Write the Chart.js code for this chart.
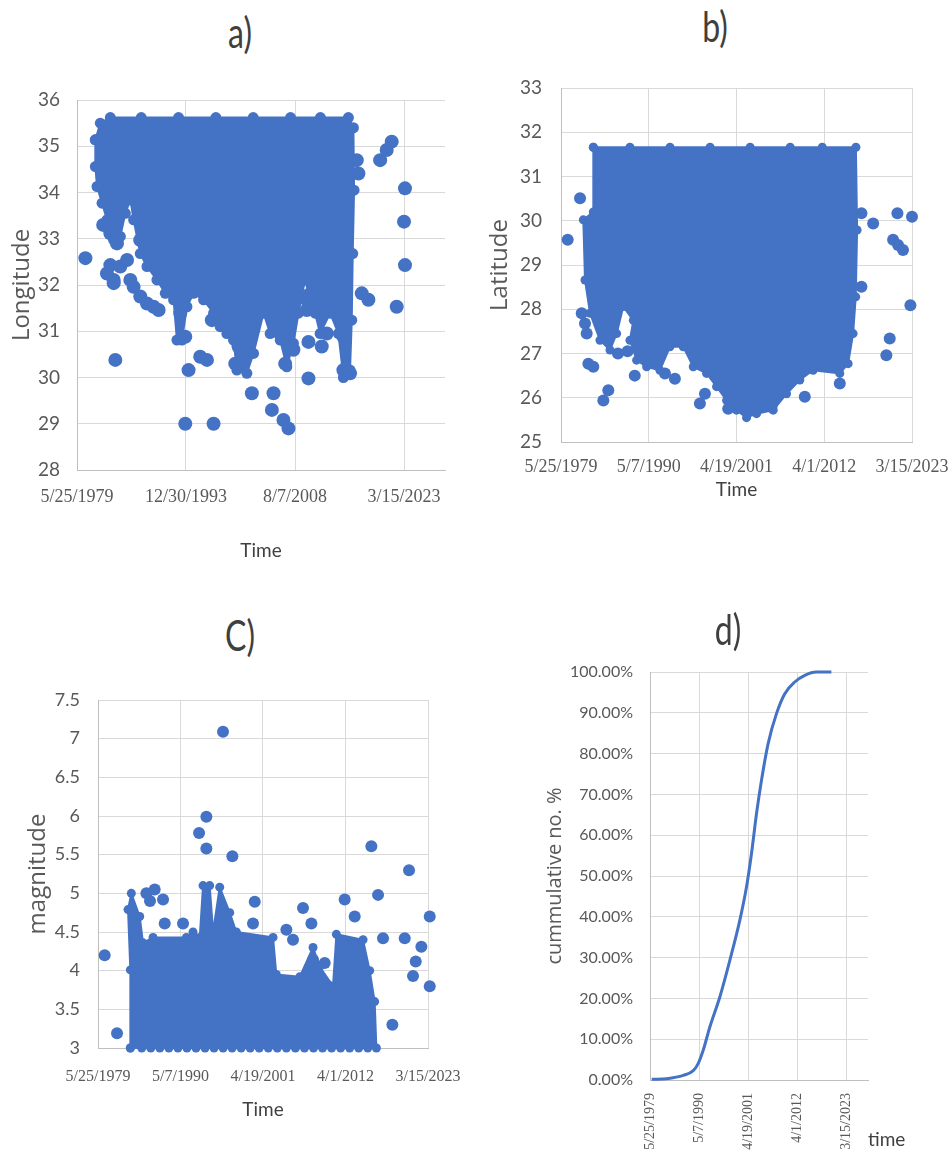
<!DOCTYPE html>
<html>
<head>
<meta charset="utf-8">
<title>Earthquake catalogue 1979-2023</title>
<script src="https://cdn.jsdelivr.net/npm/chart.js@4.4.1/dist/chart.umd.min.js"></script>
<style>
  html, body { margin: 0; padding: 0; background: #fff; overflow: hidden; }
  #fig { position: relative; width: 950px; height: 1170px; }
  canvas { position: absolute; }
  .ttl {
    position: absolute; width: 80px; text-align: center;
    font-family: Lato, "Open Sans", sans-serif; font-size: 32px; line-height: 36px;
    color: #3f3f3f; transform: scaleY(1.3);
  }
  .note { position: absolute; font-family: Lato, sans-serif; font-size: 19px; color: #404040; }
</style>
</head>
<body>
<div id="fig">
  <canvas id="lonCanvas" width="470" height="490" style="left:0;top:80px"></canvas>
  <canvas id="latCanvas" width="472" height="432" style="left:480px;top:70px"></canvas>
  <canvas id="magCanvas" width="470" height="450" style="left:0;top:680px"></canvas>
  <canvas id="cumCanvas" width="470" height="520" style="left:480px;top:650px"></canvas>

  <div class="ttl" style="left:200px;top:14px">a)</div>
  <div class="ttl" style="left:675px;top:8px">b)</div>
  <div class="ttl" style="left:200px;top:617px">C)</div>
  <div class="ttl" style="left:688px;top:611px">d)</div>
  <div class="note" style="left:868px;top:1127px">time</div>
</div>

<script>
// ---- tick dates (decimal years) ----
const tickYearsA = [1979.395, 1993.995, 2008.598, 2023.2];
const tickLabelsA = ['5/25/1979', '12/30/1993', '8/7/2008', '3/15/2023'];
const tickYears = [1979.395, 1990.345, 2001.296, 2012.249, 2023.2];
const tickLabels = ['5/25/1979', '5/7/1990', '4/19/2001', '4/1/2012', '3/15/2023'];

// ---- a) longitude: outline of the dense cloud + scattered events [year, lon] ----
const lonCloud = [
  [1981.85, 35.14], [1982.52, 35.5], [1983.86, 35.62], [1988.0, 35.62], [1993.0, 35.62],
  [1998.0, 35.62], [2003.0, 35.62], [2008.0, 35.62], [2012.0, 35.62], [2015.75, 35.62],
  [2016.42, 35.4], [2016.51, 34.05], [2016.33, 32.68], [2016.2, 31.24], [2015.97, 30.16],
  [2015.08, 30.0], [2014.41, 30.95], [2013.3, 31.39], [2011.96, 30.95], [2011.29, 31.39],
  [2010.4, 31.82], [2009.95, 32.11], [2009.06, 31.39], [2008.39, 30.74], [2007.5, 30.23],
  [2006.61, 30.81], [2005.27, 30.95], [2004.38, 31.39], [2003.04, 30.52], [2002.15, 30.09],
  [2000.81, 30.16], [2000.36, 30.81], [1999.47, 30.95], [1998.58, 31.1], [1997.69, 31.39],
  [1996.35, 31.68], [1995.01, 31.82], [1994.12, 31.53], [1993.45, 30.81], [1992.78, 30.81],
  [1992.33, 31.68], [1991.22, 31.82], [1990.1, 32.11], [1988.77, 32.4], [1987.87, 32.68],
  [1986.98, 33.41], [1986.54, 33.84], [1985.87, 33.55], [1985.2, 33.05], [1984.31, 32.97],
  [1983.41, 33.41], [1982.75, 33.77], [1982.08, 34.13], [1981.85, 34.56], [1981.85, 35.14]
];
const lonEvents = [
  [1980.52, 32.58], [1984.53, 30.38], [1983.86, 32.43], [1984.31, 32.11], [1985.2, 32.4],
  [1986.1, 32.54], [1986.54, 32.11], [1986.98, 31.96], [1987.87, 31.75], [1988.77, 31.6],
  [1989.66, 31.53], [1990.33, 31.46], [1987.87, 32.97], [1983.86, 33.12], [1984.75, 32.9],
  [1983.41, 32.25], [1984.31, 32.04], [1982.9, 33.3], [1993.23, 31.39], [1993.9, 30.88],
  [1994.34, 30.16], [1993.9, 29.0], [1997.69, 29.0], [1995.9, 30.45], [1996.8, 30.38],
  [1997.46, 31.24], [2000.59, 30.3], [2001.03, 30.67], [2002.82, 29.66], [2005.72, 29.66],
  [2005.5, 29.3], [2007.05, 29.08], [2007.72, 28.9], [2007.28, 30.3], [2008.39, 30.6],
  [2010.18, 31.68], [2010.18, 31.46], [2010.4, 30.77], [2010.4, 29.98], [2011.96, 31.39],
  [2012.18, 30.67], [2012.85, 30.95], [2013.74, 31.46], [2015.08, 30.88], [2015.08, 30.16],
  [2015.97, 30.09], [2017.09, 34.41], [2016.87, 34.7], [2017.54, 31.82], [2018.43, 31.68],
  [2020.0, 34.7], [2020.88, 34.92], [2021.55, 35.1], [2022.22, 31.53], [2023.33, 34.09],
  [2023.2, 33.37], [2023.33, 32.43]
];

// ---- b) latitude ----
const latCloud = [
  [1983.43, 31.66], [1988.0, 31.66], [1993.0, 31.66], [1998.0, 31.66], [2003.0, 31.66],
  [2008.0, 31.66], [2012.0, 31.66], [2016.2, 31.66], [2016.35, 29.79], [2016.18, 28.28],
  [2015.85, 27.45], [2015.23, 26.77], [2014.19, 26.55], [2010.86, 26.62], [2009.2, 26.4],
  [2007.54, 26.09], [2005.88, 25.72], [2003.8, 25.64], [2002.55, 25.55], [2001.3, 25.72],
  [2000.06, 25.94], [1998.81, 26.25], [1997.56, 26.55], [1995.9, 26.7], [1994.65, 27.15],
  [1992.99, 27.15], [1991.74, 26.62], [1990.08, 26.7], [1988.83, 26.85], [1988.0, 27.3],
  [1988.42, 27.75], [1987.17, 28.06], [1986.34, 27.45], [1985.51, 27.08], [1984.26, 27.3],
  [1983.02, 27.91], [1982.39, 28.66], [1982.18, 30.02], [1983.43, 30.2], [1983.43, 31.66]
];
const latEvents = [
  [1980.23, 29.57], [1981.77, 30.51], [1981.98, 27.91], [1982.39, 27.68], [1982.6, 27.45],
  [1982.81, 26.77], [1983.43, 26.7], [1984.68, 25.94], [1985.3, 26.17], [1986.5, 27.0],
  [1987.7, 27.05], [1988.6, 26.5], [1992.37, 26.55], [1993.61, 26.43], [1996.73, 25.87],
  [1997.36, 26.09], [2000.26, 25.75], [2005.67, 25.79], [2009.82, 26.02], [2014.19, 26.32],
  [2016.89, 30.17], [2018.35, 29.94], [2016.89, 28.51], [2021.38, 30.17], [2023.2, 30.09],
  [2020.84, 29.57], [2021.46, 29.45], [2022.08, 29.34], [2023.0, 28.09], [2020.42, 27.34],
  [2020.0, 26.96]
];

// ---- c) magnitude (catalogue floor at M 3.0) ----
const magCloud = [
  [1983.69, 3.0], [1983.69, 4.01], [1983.38, 4.79], [1983.82, 5.0], [1984.93, 4.7],
  [1985.37, 4.36], [1986.7, 4.43], [1991.13, 4.43], [1992.01, 4.5], [1992.9, 4.43],
  [1993.34, 5.1], [1994.22, 5.1], [1994.67, 4.5], [1995.55, 5.08], [1996.88, 4.75],
  [1997.76, 4.5], [2002.63, 4.43], [2003.07, 3.95], [2006.17, 3.92], [2007.94, 4.3],
  [2008.83, 4.05], [2010.59, 3.8], [2011.04, 4.47], [2014.58, 4.4], [2015.46, 4.0],
  [2016.12, 3.6], [2016.35, 3.0], [2015.2, 3.0], [2014.0, 3.0], [2012.8, 3.0],
  [2011.6, 3.0], [2010.4, 3.0], [2009.2, 3.0], [2008.0, 3.0], [2006.8, 3.0],
  [2005.6, 3.0], [2004.4, 3.0], [2003.2, 3.0], [2002.0, 3.0], [2000.8, 3.0],
  [1999.6, 3.0], [1998.4, 3.0], [1997.2, 3.0], [1996.0, 3.0], [1994.8, 3.0],
  [1993.6, 3.0], [1992.4, 3.0], [1991.2, 3.0], [1990.0, 3.0], [1988.8, 3.0],
  [1987.6, 3.0], [1986.4, 3.0], [1985.2, 3.0], [1983.69, 3.0]
];
const magEvents = [
  [1980.28, 4.2], [1981.92, 3.19], [1985.82, 5.0], [1986.92, 5.05], [1988.03, 4.92],
  [1986.3, 4.9], [1988.25, 4.61], [1990.68, 4.61], [1992.81, 5.78], [1993.78, 5.99],
  [1993.78, 5.58], [1995.99, 7.09], [1997.23, 5.48], [2000.2, 4.89], [1999.97, 4.61],
  [2004.4, 4.53], [2005.28, 4.4], [2006.61, 4.81], [2007.72, 4.61], [2007.94, 4.14],
  [2009.49, 4.1], [2009.93, 3.8], [2012.14, 4.92], [2013.47, 4.7], [2015.68, 5.61],
  [2016.57, 4.98], [2017.23, 4.42], [2018.47, 3.3], [2020.11, 4.42], [2020.68, 5.3],
  [2021.21, 3.93], [2021.57, 4.12], [2022.32, 4.31], [2023.43, 4.7], [2023.43, 3.8]
];

// ---- d) cumulative number of events (%) ----
const cumYears = [1979.77, 1983.11, 1986.82, 1989.05, 1990.16, 1991.28, 1992.76, 1994.99,
  1997.22, 1999.44, 2000.93, 2002.04, 2003.16, 2004.27, 2005.75, 2007.61, 2009.47,
  2011.69, 2013.92, 2016.52, 2019.86];
const cumPercent = [0.16, 0.33, 1.14, 2.29, 4.08, 7.35, 13.06, 20.41, 29.39, 39.18, 47.35,
  55.51, 65.31, 73.47, 82.45, 89.8, 94.69, 97.55, 99.18, 100, 100];

const BLUE = '#4472C4';
const GRID = '#d9d9d9';
const AXIS = '#bfbfbf';
const SERIF = '"Liberation Serif", "Times New Roman", serif';
const SANS = 'Lato, "Open Sans", sans-serif';
const TITLE_SANS = '"Open Sans", "DejaVu Sans", sans-serif';

const toXY = pts => pts.map(p => ({ x: p[0], y: p[1] }));

// x axis with the Excel date ticks; label overhang must not shrink the plot
function xAxis(years, labels, max, o) {
  return {
    type: 'linear', position: 'bottom', min: years[0], max: max,
    afterBuildTicks: s => { s.ticks = years.map(v => ({ value: v })); },
    afterFit: s => { s.height = o.height; s.paddingLeft = 0; s.paddingRight = 0; },
    grid: { color: GRID, drawTicks: false },
    border: { color: AXIS },
    ticks: {
      autoSkip: false, maxRotation: o.rot || 0, minRotation: o.rot || 0,
      padding: o.pad, color: '#595959', font: { family: SERIF, size: o.size },
      callback: (v, i) => labels[i]
    },
    title: o.title
      ? { display: true, text: o.title, color: '#404040', font: { family: SANS, size: 19 }, padding: { top: 0, bottom: o.titlePad } }
      : { display: false }
  };
}

function yAxis(min, max, step, o) {
  return {
    type: 'linear', min: min, max: max,
    afterFit: s => { s.width = o.width; s.paddingTop = 0; s.paddingBottom = 0; },
    grid: { color: GRID, drawTicks: false },
    border: { color: AXIS },
    ticks: { stepSize: step, padding: o.pad, color: '#595959', font: { family: SANS, size: o.size }, callback: o.fmt },
    title: { display: true, text: o.title, color: '#595959', font: { family: TITLE_SANS, size: o.titleSize }, padding: { top: o.titlePad, bottom: 0 } }
  };
}

function cloudChart(id, cloud, events, dot, scales, padding) {
  return new Chart(document.getElementById(id), {
    type: 'scatter',
    data: {
      datasets: [
        { data: toXY(cloud), showLine: true, fill: 'shape', backgroundColor: BLUE, borderColor: BLUE,
          borderWidth: 2, pointRadius: dot - 1.5, pointBackgroundColor: BLUE, pointBorderWidth: 0, clip: false },
        { data: toXY(events), pointRadius: dot, backgroundColor: BLUE, borderWidth: 0, clip: false }
      ]
    },
    options: {
      responsive: false, animation: false, events: [],
      layout: { padding: padding },
      plugins: { legend: { display: false }, tooltip: { enabled: false } },
      scales: scales
    }
  });
}

// a) Longitude
cloudChart('lonCanvas', lonCloud, lonEvents, 7, {
  x: xAxis(tickYearsA, tickLabelsA, 2028.69, { height: 100, pad: 16, size: 18, title: 'Time', titlePad: 8 }),
  y: yAxis(28, 36, 1, { width: 77, pad: 17, size: 19, title: 'Longitude', titleSize: 24, titlePad: 8 })
}, { top: 20, right: 25, bottom: 0, left: 0 });

// b) Latitude
cloudChart('latCanvas', latCloud, latEvents, 6, {
  x: xAxis(tickYears, tickLabels, 2023.2, { height: 60, pad: 14, size: 18, title: 'Time', titlePad: 1 }),
  y: yAxis(25, 33, 1, { width: 81, pad: 19, size: 19, title: 'Latitude', titleSize: 24, titlePad: 6 })
}, { top: 18, right: 40, bottom: 0, left: 0 });

// C) magnitude
cloudChart('magCanvas', magCloud, magEvents, 6, {
  x: xAxis(tickYears, tickLabels, 2023.2, { height: 82, pad: 19, size: 16, title: 'Time', titlePad: 9 }),
  y: yAxis(3, 7.5, 0.5, { width: 98, pad: 18, size: 18, title: 'magnitude', titleSize: 24, titlePad: 24 })
}, { top: 20, right: 42, bottom: 0, left: 0 });

// d) cumulative curve
new Chart(document.getElementById('cumCanvas'), {
  type: 'scatter',
  data: {
    datasets: [{
      data: cumYears.map((yr, i) => ({ x: yr, y: cumPercent[i] })),
      showLine: true, borderColor: BLUE, borderWidth: 3, pointRadius: 0,
      cubicInterpolationMode: 'monotone', fill: false, clip: false
    }]
  },
  options: {
    responsive: false, animation: false, events: [],
    layout: { padding: { top: 22, right: 82, bottom: 0, left: 0 } },
    plugins: { legend: { display: false }, tooltip: { enabled: false } },
    scales: {
      x: xAxis(tickYears, tickLabels, 2028.03, { height: 90, pad: 13, size: 14, rot: 90 }),
      y: yAxis(0, 100, 10, { width: 170, pad: 17, size: 16, title: 'cummulative no. %', titleSize: 20, titlePad: 63,
        fmt: v => v.toFixed(2) + '%' })
    }
  }
});
</script>
</body>
</html>
